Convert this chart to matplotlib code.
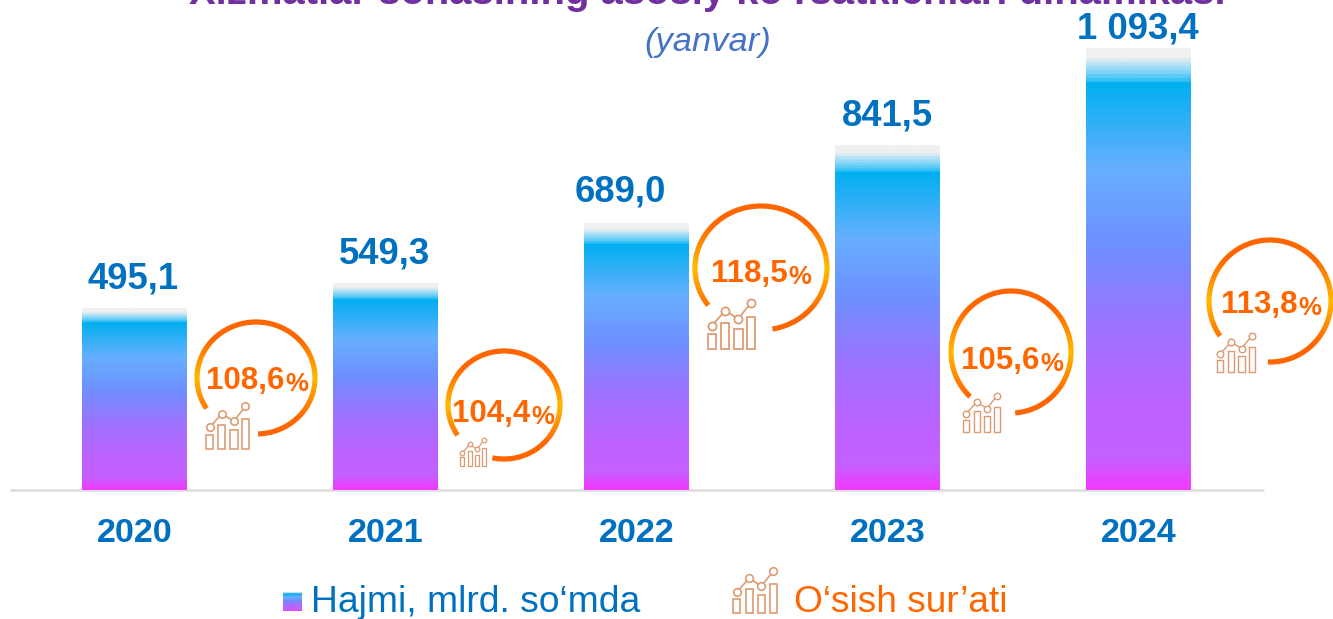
from __future__ import annotations

import matplotlib

matplotlib.use("Agg")
import matplotlib.pyplot as plt
import numpy as np
from matplotlib.colors import to_rgb
from matplotlib.patches import Polygon, Rectangle

plt.rcParams["font.family"] = ["Liberation Sans", "DejaVu Sans"]

W, H = 1333, 619

years = ["2020", "2021", "2022", "2023", "2024"]
value_labels = ["495,1", "549,3", "689,0", "841,5", "1 093,4"]
# drawn bar heights, the original axis is not proportional
bar_heights = [182, 207, 267, 345, 442]
rate_labels = ["108,6", "104,4", "118,5", "105,6", "113,8"]

TITLE = "Xizmatlar sohasining asosiy ko‘rsatkichlari dinamikasi"
SUBTITLE = "(yanvar)"
LEGEND_BAR = "Hajmi, mlrd. so‘mda"
LEGEND_RATE = "O‘sish sur’ati"

BLUE = "#0070c0"
ORANGE = "#ff6600"
YELLOW = "#ffb900"
ICON = "#dc9a72"

# picture positions, pixels from the top left corner
label_x = [133, 385, 620, 887, 1138]
label_y = [279, 254, 192, 116, 29]
circles = [
    # cx, cy, rx, ry, start deg, end deg
    (256, 378, 59, 56, 213, -88),
    (504, 405, 56, 54, 214, -102),
    (761, 268, 66, 62, 217, -80),
    (1011, 352, 60, 61, 227, -86),
    (1270, 301, 61, 61, 215, -92),
]
rate_text = [(206, 389), (452, 422), (711, 282), (961, 369), (1221, 313)]
icons = [
    (206, 403, 44, 46),
    (460, 438, 27, 28),
    (708, 299, 48, 50),
    (963, 393, 38, 39),
    (1217, 333, 39, 39),
]
legend_icon = (733, 568, 45, 45)

gradient_stops = [
    (0.000, "#f0f0f0"), (0.023, "#f0f0f0"),
    (0.023, "#daeaf2"), (0.032, "#daeaf2"),
    (0.032, "#b8e2f6"), (0.041, "#b8e2f6"),
    (0.041, "#9adcf8"), (0.050, "#9adcf8"),
    (0.050, "#7ed4f8"), (0.059, "#7ed4f8"),
    (0.059, "#5ccbf7"), (0.068, "#5ccbf7"),
    (0.068, "#38c0f5"), (0.077, "#38c0f5"),
    (0.077, "#00b0f0"),
    (0.270, "#66afff"),
    (0.450, "#6f8fff"),
    (0.640, "#9f72ff"),
    (0.820, "#bd63ff"),
    (0.930, "#c560ff"),
    (0.990, "#ee3cff"),
    (1.000, "#ee3cff"),
]


def gradient_image(n: int = 900) -> np.ndarray:
    pos = np.array([s[0] for s in gradient_stops])
    rgb = np.array([to_rgb(s[1]) for s in gradient_stops])
    t = (np.arange(n) + 0.5) / n
    # small nudge so repeated stops stay strictly ordered for interp
    pos = pos + np.arange(len(pos)) * 1e-6
    return np.stack([np.interp(t, pos, rgb[:, i]) for i in range(3)], axis=1)[:, None, :]


def draw_arc(ax, cx, cy, rx, ry, start, end, thick=5.2) -> None:
    ang = np.radians(np.linspace(start, end, 240))
    outer = np.column_stack([cx + (rx + thick / 2) * np.cos(ang), cy - (ry + thick / 2) * np.sin(ang)])
    inner = np.column_stack([cx + (rx - thick / 2) * np.cos(ang), cy - (ry - thick / 2) * np.sin(ang)])
    ring = Polygon(np.vstack([outer, inner[::-1]]), closed=True, fc="none", ec="none", transform=ax.transData)
    ax.add_patch(ring)
    # orange at top and bottom, yellow around the middle height
    t = np.linspace(-1, 1, 200)
    k = np.clip(np.abs(t) * 1.5, 0, 1)[:, None]
    colors = (1 - k) * np.array(to_rgb(YELLOW)) + k * np.array(to_rgb(ORANGE))
    im = ax.imshow(colors[:, None, :], aspect="auto", zorder=3,
                   extent=(cx - rx - 6, cx + rx + 6, cy + ry + 4, cy - ry - 4))
    im.set_clip_path(ring)
    ax.set_xlim(0, W)
    ax.set_ylim(H, 0)


def draw_icon(ax, x0, y0, w, h) -> None:
    lw = max(0.9, w / 38)
    bars = [(0.01, 0.16, 0.31), (0.28, 0.44, 0.53), (0.545, 0.72, 0.41), (0.82, 0.98, 0.65)]
    for left, right, top in bars:
        ax.add_patch(Rectangle((x0 + left * w, y0 + h), (right - left) * w, -top * h,
                               fc="white", ec=ICON, lw=lw, zorder=4))
    px = [0.085, 0.36, 0.63, 0.895]
    py = [0.47, 0.77, 0.6, 0.93]
    xs = [x0 + p * w for p in px]
    ys = [y0 + h - p * h for p in py]
    ax.plot(xs, ys, color=ICON, lw=lw, zorder=4)
    ax.scatter(xs, ys, s=(w * 0.17 * 0.72) ** 2, fc="white", ec=ICON, lw=lw, zorder=5)


def main() -> None:
    fig = plt.figure(figsize=(W / 100, H / 100), dpi=100, facecolor="white")

    # bars: y=0 sits on the baseline at 490 px, one unit is one pixel
    ax = fig.add_axes([0, 0, 1, 1])
    ax.set_xlim(-134.5 / 251, (W - 134.5) / 251)
    ax.set_ylim(-(H - 490), 490)
    ax.axis("off")
    img = gradient_image()
    width = 105 / 251
    for patch in ax.bar(range(len(years)), bar_heights, width=width, color="none"):
        im = ax.imshow(img, aspect="auto", interpolation="bilinear", zorder=2,
                       extent=(patch.get_x(), patch.get_x() + patch.get_width(), 0, patch.get_height()))
        im.set_clip_path(patch)
    ax.set_xlim(-134.5 / 251, (W - 134.5) / 251)
    ax.set_ylim(-(H - 490), 490)
    ax.hlines(0, -124.5 / 251, (1264 - 134.5) / 251, color="#dcdcdc", lw=1.8, zorder=1)

    # everything placed by picture position
    ov = fig.add_axes([0, 0, 1, 1], facecolor="none")
    ov.set_xlim(0, W)
    ov.set_ylim(H, 0)
    ov.axis("off")

    ov.text(707.5, 4, TITLE, color="#7030a0", fontsize=28.8, fontweight="bold", ha="center", va="baseline")
    ov.text(708, 42, SUBTITLE, color="#4472c4", fontsize=24.8, fontstyle="italic", ha="center", va="center")

    for i, year in enumerate(years):
        cx = 134.5 + 251 * i
        ov.text(cx, 534, year, color=BLUE, fontsize=24.6, fontweight="bold", ha="center", va="center")
        ov.text(label_x[i], label_y[i], value_labels[i], color=BLUE, fontsize=26.3, fontweight="bold",
                ha="center", va="center")

    for circle, pos, label, icon in zip(circles, rate_text, rate_labels, icons):
        draw_arc(ov, *circle)
        draw_icon(ov, *icon)
        num = ov.text(pos[0], pos[1], label, color=ORANGE, fontsize=22.5, fontweight="bold",
                      ha="left", va="baseline", zorder=6)
        ov.annotate("%", xy=(1, 0), xycoords=num, xytext=(0.5, 0), textcoords="offset points",
                    color=ORANGE, fontsize=18.5, fontweight="bold", ha="left", va="bottom", zorder=6)

    # legend
    ov.imshow(gradient_image(), extent=(283, 302, 611, 592), aspect="auto", zorder=3)
    ov.set_xlim(0, W)
    ov.set_ylim(H, 0)
    ov.text(311, 612, LEGEND_BAR, color=BLUE, fontsize=26.8, ha="left", va="baseline")
    draw_icon(ov, *legend_icon)
    ov.text(794, 612, LEGEND_RATE, color=ORANGE, fontsize=26.7, ha="left", va="baseline")

    fig.savefig("out.png", dpi=100)
    plt.close(fig)


if __name__ == "__main__":
    main()
